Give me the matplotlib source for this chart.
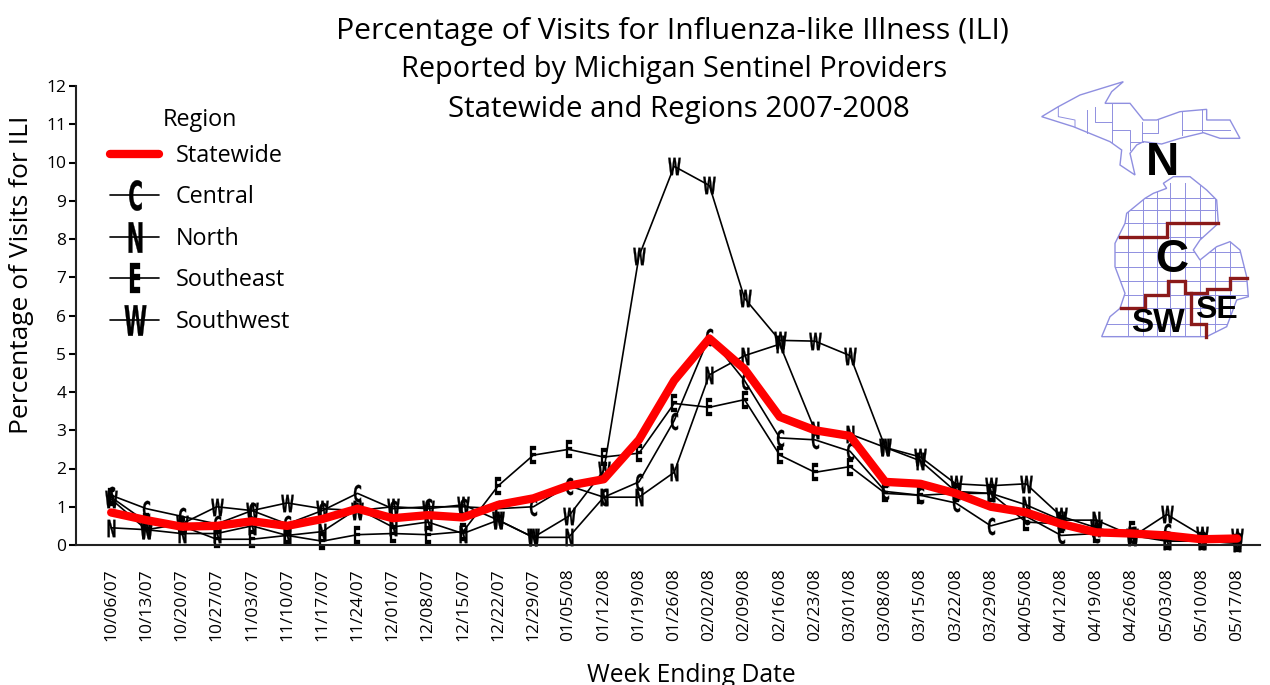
import matplotlib
matplotlib.use("Agg")
import matplotlib.pyplot as plt
from matplotlib.font_manager import FontProperties
from matplotlib.patches import Polygon
from matplotlib.textpath import TextPath
from matplotlib.transforms import Affine2D

plt.rcParams["font.family"] = ["Open Sans", "DejaVu Sans"]

weeks = ["10/06/07", "10/13/07", "10/20/07", "10/27/07", "11/03/07", "11/10/07", "11/17/07",
         "11/24/07", "12/01/07", "12/08/07", "12/15/07", "12/22/07", "12/29/07", "01/05/08",
         "01/12/08", "01/19/08", "01/26/08", "02/02/08", "02/09/08", "02/16/08", "02/23/08",
         "03/01/08", "03/08/08", "03/15/08", "03/22/08", "03/29/08", "04/05/08", "04/12/08",
         "04/19/08", "04/26/08", "05/03/08", "05/10/08", "05/17/08"]

statewide = [0.85, 0.65, 0.48, 0.50, 0.62, 0.50, 0.68, 0.95, 0.70, 0.78, 0.72, 1.05, 1.22, 1.55, 1.72, 2.75, 4.30,
             5.40, 4.60, 3.35, 3.00, 2.85, 1.65, 1.60, 1.35, 1.00, 0.85, 0.55, 0.33, 0.30, 0.25, 0.15, 0.17]
central = [1.30, 0.95, 0.75, 0.55, 0.90, 0.55, 0.90, 1.35, 0.95, 1.00, 1.00, 0.95, 1.00, 1.55, 1.25, 1.65, 3.25,
           5.45, 4.30, 2.80, 2.75, 2.45, 1.40, 1.30, 1.10, 0.50, 0.75, 0.25, 0.30, 0.25, 0.35, 0.10, 0.10]
north = [0.45, 0.40, 0.30, 0.30, 0.50, 0.25, 0.35, 0.95, 0.47, 0.60, 0.30, 0.65, 0.20, 0.20, 1.25, 1.25, 1.90,
         4.45, 4.95, 5.25, 3.00, 2.90, 2.55, 2.20, 1.40, 1.35, 1.05, 0.65, 0.65, 0.25, 0.10, 0.10, 0.05]
southeast = [1.25, 0.60, 0.50, 0.15, 0.15, 0.25, 0.10, 0.27, 0.30, 0.27, 0.35, 1.55, 2.35, 2.50, 2.30, 2.40, 3.70,
             3.60, 3.80, 2.35, 1.90, 2.05, 1.35, 1.30, 1.35, 1.35, 0.60, 0.55, 0.30, 0.40, 0.10, 0.10, 0.05]
southwest = [1.20, 0.40, 0.55, 1.00, 0.90, 1.10, 0.95, 0.90, 1.00, 0.95, 1.05, 0.65, 0.20, 0.75, 1.95, 7.55, 9.90,
             9.40, 6.45, 5.35, 5.33, 4.95, 2.55, 2.30, 1.60, 1.55, 1.60, 0.75, 0.45, 0.20, 0.80, 0.25, 0.20]

yticks = list(range(0, 13))


def letter_marker(ch):
    # tall narrow letter centred on the point
    tp = TextPath((0, 0), ch, size=10, prop=FontProperties(family="DejaVu Sans", weight="bold"))
    bb = tp.get_extents()
    t = Affine2D().translate(-(bb.x0 + bb.x1) / 2, -(bb.y0 + bb.y1) / 2).scale(0.5, 1.0)
    return t.transform_path(tp)


W, H = 1270, 685
fig = plt.figure(figsize=(12.7, 6.85), dpi=100)
ax = fig.add_axes([76 / W, (H - 545) / H, (1260 - 76) / W, (545 - 86) / H])

x = list(range(len(weeks)))
for vals, ch, name in [(central, "C", "Central"), (north, "N", "North"),
                       (southeast, "E", "Southeast"), (southwest, "W", "Southwest")]:
    ax.plot(x, vals, color="black", lw=1.2, marker=letter_marker(ch), ms=12.5, mfc="black", mec="black",
            mew=0.2, clip_on=False, label=name, zorder=2)
ax.plot(x, statewide, color="#ff0000", lw=6, solid_joinstyle="round", solid_capstyle="round",
        clip_on=False, label="Statewide", zorder=3)

ax.set_xlim(-1, 32.65)
ax.set_ylim(0, 12)
ax.set_yticks(yticks)
ax.set_xticks(x)
ax.set_xticklabels(weeks, rotation=90, fontsize=12.5)
ax.tick_params(axis="y", labelsize=12.5, length=5, width=1.5, pad=2)
ax.tick_params(axis="x", length=0, pad=17)
for s in ["top", "right"]:
    ax.spines[s].set_visible(False)
for s in ["left", "bottom"]:
    ax.spines[s].set_linewidth(1.5)
    ax.spines[s].set_color("#222222")

fig.text(22 / W, 1 - 275 / H, "Percentage of Visits for ILI", rotation=90, fontsize=19, ha="center", va="center")
fig.text(691 / W, 1 - 675 / H, "Week Ending Date", fontsize=17.7, ha="center", va="center")

fig.text(672.5 / W, 1 - 31 / H, "Percentage of Visits for Influenza-like Illness (ILI)", fontsize=21.7,
         ha="center", va="center")
fig.text(674 / W, 1 - 70 / H, "Reported by Michigan Sentinel Providers", fontsize=20.8, ha="center", va="center")
fig.text(678.5 / W, 1 - 109 / H, "Statewide and Regions 2007-2008", fontsize=21.2, ha="center", va="center")

# legend built from the plotted lines, bigger markers than in the plot
handles, labels = ax.get_legend_handles_labels()
order = [4, 0, 1, 2, 3]
leg_h = []
for i in order:
    h = plt.Line2D([], [], color=handles[i].get_color(), lw=handles[i].get_linewidth(),
                   marker=handles[i].get_marker(), ms=0 if i == 4 else 22, mfc="black", mec="black", mew=0.2,
                   solid_capstyle="round")
    leg_h.append(h)
leg = ax.legend(leg_h, [labels[i] for i in order], title="Region", frameon=False, fontsize=16.8, title_fontsize=16.8,
                loc="upper left", bbox_to_anchor=(110 / W, 1 - 108 / H), bbox_transform=fig.transFigure,
                handlelength=2.12, handletextpad=0.68, labelspacing=0.75, borderpad=0, borderaxespad=0)
leg._legend_box.sep = 8.5

# Michigan inset, coordinates in inset pixels
m = fig.add_axes([1030 / W, (H - 350) / H, 230 / W, 280 / H])
m.set_xlim(0, 690)
m.set_ylim(840, 0)
m.axis("off")
up = [(35, 140), (85, 110), (150, 75), (215, 55), (280, 35), (245, 65), (225, 100), (300, 100), (340, 150), (380, 150),
      (450, 125), (530, 118), (530, 150), (600, 150), (630, 205), (570, 205), (520, 188), (450, 205), (395, 222),
      (340, 215), (320, 225), (300, 250), (315, 315), (270, 285), (275, 240), (240, 215), (130, 170)]
lp = [(400, 340), (430, 320), (480, 320), (530, 360), (560, 390), (565, 460), (510, 510), (490, 540), (510, 570),
      (560, 530), (600, 515), (630, 540), (650, 620), (655, 680), (620, 690), (590, 770), (530, 800), (215, 800),
      (240, 740), (270, 715), (285, 670), (255, 590), (255, 520), (285, 460), (290, 430), (345, 385), (370, 370),
      (410, 355)]
up_lines = [[(85, 110), (85, 140), (135, 150), (135, 170)], [(170, 120), (170, 190)],
            [(195, 110), (195, 155), (245, 155)], [(245, 100), (245, 215)], [(245, 180), (300, 180), (300, 240)],
            [(335, 155), (335, 215)], [(385, 150), (385, 190), (335, 190)], [(455, 125), (455, 195)],
            [(515, 118), (515, 185)], [(455, 180), (600, 180)], [(300, 215), (340, 215)]]
blue = "#8f8fe0"
m.add_patch(Polygon(up, closed=True, fc="none", ec=blue, lw=1))
lp_patch = Polygon(lp, closed=True, fc="none", ec=blue, lw=1)
m.add_patch(lp_patch)
for seg in up_lines:
    m.plot(*zip(*seg), color=blue, lw=0.7)
for gx in [295, 340, 380, 420, 465, 510, 555, 600]:
    l, = m.plot([gx, gx], [340, 800], color=blue, lw=0.7)
    l.set_clip_path(lp_patch)
for gy in [385, 420, 460, 500, 545, 590, 632, 675, 715, 762]:
    l, = m.plot([200, 670], [gy, gy], color=blue, lw=0.7)
    l.set_clip_path(lp_patch)
red = "#8b1a1a"
for seg in [[(270, 502), (412, 502), (412, 460), (565, 460)],
            [(272, 715), (345, 715), (345, 675), (415, 675), (415, 632), (465, 632), (465, 668), (530, 668), (530, 658),
             (600, 658), (600, 625), (650, 625)],
            [(482, 668), (482, 762), (528, 762), (528, 800)]]:
    m.plot(*zip(*seg), color=red, lw=2.4, solid_joinstyle="miter")
for txt, tx, ty, fs in [("N", 398, 278, 33), ("C", 425, 570, 33), ("SW", 385, 762, 24), ("SE", 560, 720, 23)]:
    m.text(tx, ty, txt, family="Liberation Sans", weight="bold", fontsize=fs, ha="center", va="center")

fig.savefig("out.png", dpi=100)
